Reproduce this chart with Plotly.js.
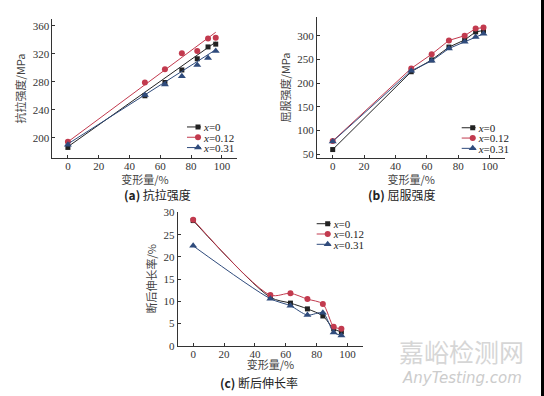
<!DOCTYPE html>
<html>
<head>
<meta charset="utf-8">
<script src="https://cdn.plot.ly/plotly-3.0.1.min.js"></script>
<style>html,body{margin:0;padding:0;background:#fff;}#chart{width:544px;height:396px;}</style>
</head>
<body>
<div id="chart"></div>
<script>
// ---- data ----
var deformation = [0, 50, 63, 74, 84, 91, 96];           // 变形量/%
var seriesNames = ['<i>x</i>=0', '<i>x</i>=0.12', '<i>x</i>=0.31'];

// (a) 抗拉强度/MPa (measured points)
var tensile_x0   = [186, 260, 279, 297, 313, 330, 334];
var tensile_x012 = [194, 279, 298, 321, 324, 342, 343];
var tensile_x031 = [190, 261, 276, 288, 304, 314, 324];
// (a) fitted straight lines (end points)
var fitX = [0, 96];
var fit_x0   = [187, 337];
var fit_x012 = [194, 351];
var fit_x031 = [191, 326];

// (b) 屈服强度/MPa
var yield_x0   = [60, 224, 249, 276, 291, 308, 311];
var yield_x012 = [78, 231, 261, 290, 300, 315, 317];
var yield_x031 = [77, 226, 247, 273, 287, 297, 304];

// (c) 断后伸长率/%
var elong_x0   = [28.2, 10.9, 9.6, 8.3, 6.7, 3.8, 3.1];
var elong_x012 = [28.4, 11.4, 11.8, 10.5, 9.4, 4.3, 3.8];
var elong_x031 = [22.5, 10.6, 9.0, 6.9, 7.4, 3.0, 2.3];

var xTicks = [0, 20, 40, 60, 80, 100];

// ---- styles ----
var colors = ['#222222', '#c23a4e', '#2f4b7c'];
var symbols = ['square', 'circle', 'triangle-up'];
var sizes = [5, 6, 7];
var serif = "'Liberation Serif', 'DejaVu Serif', serif";
var cjk = "'Noto Sans CJK SC', sans-serif";

function mk(i) { return {color: colors[i], symbol: symbols[i], size: sizes[i]}; }

var traces = [];
var tA = [tensile_x0, tensile_x012, tensile_x031];
var fA = [fit_x0, fit_x012, fit_x031];
var tB = [yield_x0, yield_x012, yield_x031];
var tC = [elong_x0, elong_x012, elong_x031];

for (var i = 0; i < 3; i++) {
  traces.push({x: fitX, y: fA[i], xaxis: 'x', yaxis: 'y', mode: 'lines', type: 'scatter',
    line: {color: colors[i], width: 1}, showlegend: false, hoverinfo: 'skip'});
  traces.push({x: deformation, y: tA[i], xaxis: 'x', yaxis: 'y', mode: 'markers', type: 'scatter',
    marker: mk(i), showlegend: false, cliponaxis: false});
  traces.push({x: [null], y: [null], xaxis: 'x', yaxis: 'y', mode: 'lines+markers', type: 'scatter',
    name: seriesNames[i], line: {color: colors[i], width: 1}, marker: mk(i), legend: 'legend', showlegend: true});
}
for (var i = 0; i < 3; i++) {
  traces.push({x: deformation, y: tB[i], xaxis: 'x2', yaxis: 'y2', mode: 'lines+markers', type: 'scatter',
    name: seriesNames[i], line: {color: colors[i], width: 1}, marker: mk(i), legend: 'legend2', cliponaxis: false});
}
for (var i = 0; i < 3; i++) {
  traces.push({x: deformation, y: tC[i], xaxis: 'x3', yaxis: 'y3', mode: 'lines+markers', type: 'scatter',
    name: seriesNames[i], line: {color: colors[i], width: 1, shape: 'spline', smoothing: 0.8}, marker: mk(i),
    legend: 'legend3', cliponaxis: false});
}

function axis(extra) {
  var base = {
    showline: true, linecolor: '#333', linewidth: 1,
    ticks: 'inside', ticklen: 3, tickcolor: '#333', tickwidth: 1,
    showgrid: false, zeroline: false, mirror: false,
    tickfont: {family: serif, size: 11, color: '#333'},
    automargin: false, fixedrange: true
  };
  for (var k in extra) base[k] = extra[k];
  return base;
}
function ttl(t, so) { return {text: t, font: {family: cjk, size: 11, color: '#444'}, standoff: so}; }

function legendCfg(x, y) {
  return {x: x, y: y, xanchor: 'left', yanchor: 'top', bgcolor: 'rgba(0,0,0,0)', borderwidth: 0,
    font: {family: serif, size: 11, color: '#222'}, tracegroupgap: 0, itemwidth: 30};
}

var layout = {
  width: 544, height: 396,
  showlegend: true,
  margin: {l: 0, r: 0, t: 0, b: 0, pad: 0},
  paper_bgcolor: '#ffffff', plot_bgcolor: '#ffffff',
  xaxis: axis({domain: [0.0965, 0.4362], range: [-10, 110], anchor: 'y', tickvals: xTicks, ticklabelstandoff: -2, title: ttl('变形量/%', 0)}),
  yaxis: axis({domain: [0.6018, 0.9513], range: [171.3, 369.6], anchor: 'x', dtick: 40, tick0: 200, title: ttl('抗拉强度/MPa', 4)}),
  xaxis2: axis({domain: [0.5827, 0.9292], range: [-10, 110], anchor: 'y2', tickvals: xTicks, ticklabelstandoff: -2, title: ttl('变形量/%', 0)}),
  yaxis2: axis({domain: [0.6003, 0.9578], range: [41.6, 340], anchor: 'x2', dtick: 50, tick0: 50, title: ttl('屈服强度/MPa', 4)}),
  xaxis3: axis({domain: [0.3267, 0.6673], range: [-10, 110], anchor: 'y3', tickvals: xTicks, ticklabelstandoff: -2, title: ttl('变形量/%', 0)}),
  yaxis3: axis({domain: [0.1270, 0.4654], range: [0, 30.2], anchor: 'x3', dtick: 5, tick0: 0, title: ttl('断后伸长率/%', 4)}),
  legend: legendCfg(0.318, 0.716),
  legend2: legendCfg(0.823, 0.714),
  legend3: legendCfg(0.5564, 0.4717),
  shapes: [
    {type: 'rect', xref: 'paper', yref: 'paper', x0: 0.9945, x1: 1, y0: 0, y1: 1, fillcolor: '#000', line: {width: 0}}
  ],
  annotations: [
    {text: '<b>(a)</b> 抗拉强度', xref: 'paper', yref: 'paper', x: 0.289, y: 0.509, showarrow: false,
      font: {family: cjk, size: 12, color: '#222'}, xanchor: 'center', yanchor: 'middle'},
    {text: '<b>(b)</b> 屈服强度', xref: 'paper', yref: 'paper', x: 0.739, y: 0.509, showarrow: false,
      font: {family: cjk, size: 12, color: '#222'}, xanchor: 'center', yanchor: 'middle'},
    {text: '<b>(c)</b> 断后伸长率', xref: 'paper', yref: 'paper', x: 0.477, y: 0.035, showarrow: false,
      font: {family: cjk, size: 12, color: '#222'}, xanchor: 'center', yanchor: 'middle'},
    {text: '嘉峪检测网', xref: 'paper', yref: 'paper', x: 0.848, y: 0.113, showarrow: false,
      font: {family: cjk, size: 25, color: '#d6d6d6'}, xanchor: 'center', yanchor: 'middle'},
    {text: '<i>AnyTesting.com</i>', xref: 'paper', yref: 'paper', x: 0.849, y: 0.046, showarrow: false,
      font: {family: "'DejaVu Sans', sans-serif", size: 15, color: '#cccccc'}, xanchor: 'center', yanchor: 'middle'}
  ]
};

Plotly.newPlot('chart', traces, layout, {staticPlot: true, displayModeBar: false}).then(function (gd) {
  // compact legend rows and short symbols, as in the reference
  ['legend', 'legend2', 'legend3'].forEach(function (cls) {
    var lg = gd.querySelector('g.' + cls);
    if (!lg) return;
    var items = lg.querySelectorAll('g.traces');
    var y0 = null;
    Array.prototype.forEach.call(items, function (it, i) {
      var tr = it.getAttribute('transform') || '';
      var m = /translate\(\s*([-\d.e]+)[ ,]+([-\d.e]+)\s*\)/.exec(tr);
      if (!m) return;
      var x = parseFloat(m[1]), y = parseFloat(m[2]);
      if (y0 === null) y0 = y;
      it.setAttribute('transform', 'translate(' + x + ',' + (y0 + i * 10.3) + ')');
      Array.prototype.forEach.call(it.querySelectorAll('.legendlines path'), function (p) {
        p.setAttribute('d', 'M14,0h14');
      });
      Array.prototype.forEach.call(it.querySelectorAll('.legendpoints path'), function (p) {
        p.setAttribute('transform', 'translate(25,0)');
      });
      var txt = it.querySelector('text');
      if (txt) {
        txt.setAttribute('x', 31);
        Array.prototype.forEach.call(txt.querySelectorAll('tspan[x]'), function (t) { t.setAttribute('x', 31); });
      }
    });
  });
  // nudge x-axis titles up to match reference spacing
  [['x', -1], ['x2', -1], ['x3', -4]].forEach(function (p) {
    var t = gd.querySelector('text.' + p[0] + 'title');
    if (t) {
      var y = parseFloat(t.getAttribute('y'));
      if (!isNaN(y)) t.setAttribute('y', y + p[1]);
    }
  });
});
</script>
</body>
</html>
